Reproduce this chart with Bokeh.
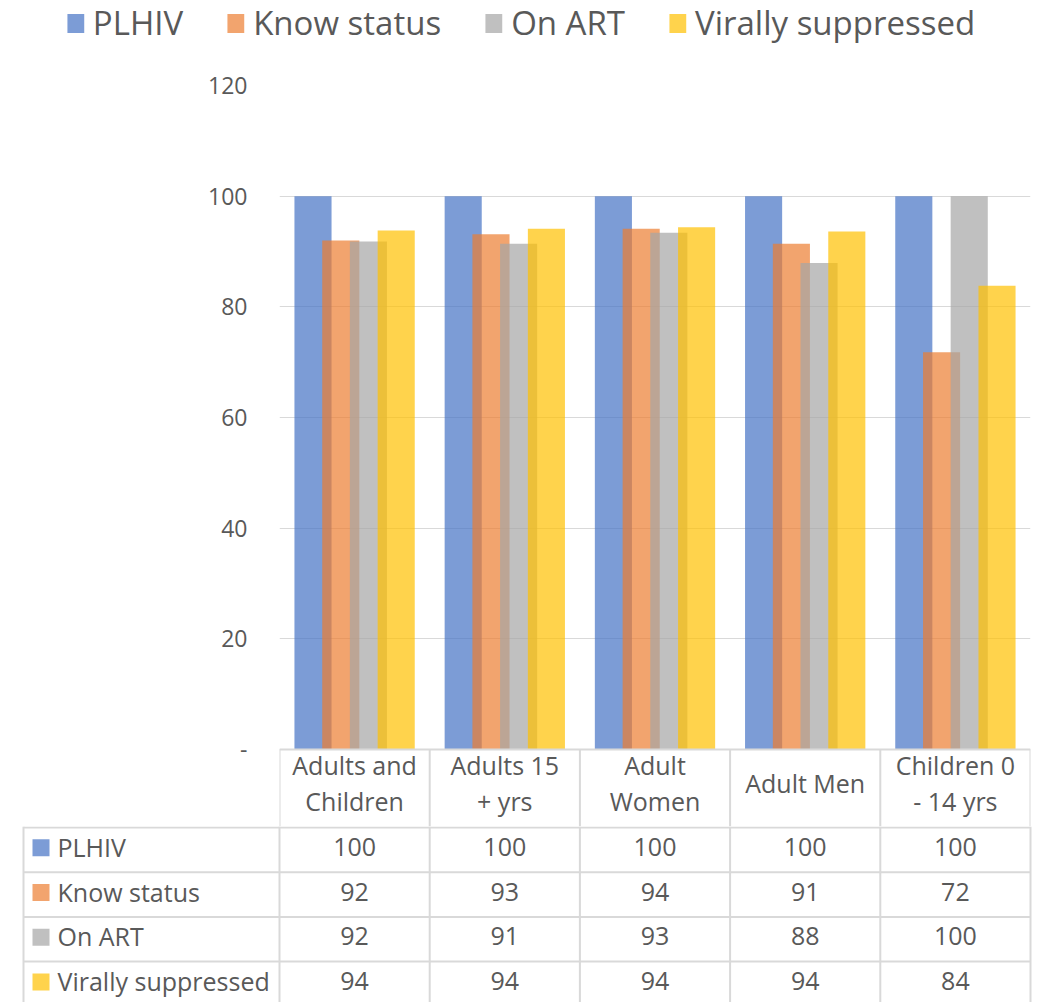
from bokeh.plotting import figure
from bokeh.models import (ColumnDataSource, Range1d, FixedTicker,
                          Legend, LegendItem)
from bokeh.layouts import column
from bokeh.transform import dodge
from bokeh.embed import file_html
from bokeh.resources import INLINE
from bokeh.core.properties import value

# ---------------- data ----------------
categories = ["Adults and Children", "Adults 15 + yrs", "Adult Women",
              "Adult Men", "Children 0 - 14 yrs"]
header_labels = ["Adults and\nChildren", "Adults 15\n+ yrs", "Adult\nWomen",
                 "Adult Men", "Children 0\n- 14 yrs"]
series_names = ["PLHIV", "Know status", "On ART", "Virally suppressed"]
plhiv = [100.0, 100.0, 100.0, 100.0, 100.0]
know_status = [92.0, 93.1, 94.1, 91.4, 71.8]
on_art = [91.8, 91.4, 93.4, 87.9, 100.0]
virally_suppressed = [93.8, 94.1, 94.4, 93.6, 83.8]
y_ticks = [0, 20, 40, 60, 80, 100, 120]

series_values = [plhiv, know_status, on_art, virally_suppressed]
colors = ["#4472C4", "#ED7D31", "#A5A5A5", "#FFC000"]
ALPHA = 0.7
FONT = "Open Sans"
TXT = "#595959"
GRID = "#D9D9D9"
TAB_FS = "25px"

W = 1040
LEG_H = 50
TOP_BORDER = 35
PLOT_H = 664          # pixels for the 0..120 value span
HEADER_H = 77         # header row of the data table (inside main frame)
MAIN_H = TOP_BORDER + PLOT_H + HEADER_H
TAB_H = 1002 - LEG_H - MAIN_H
FRAME_L = 279
FRAME_R = 1030
Y_MAX = 120

# ---------------- legend strip ----------------
leg = figure(width=W, height=LEG_H, x_range=Range1d(0, 1), y_range=Range1d(0, 1),
             toolbar_location=None, output_backend="svg",
             x_axis_type=None, y_axis_type=None, min_border=0,
             outline_line_color=None, frame_align=False)
leg.grid.visible = False
items = []
dummy = ColumnDataSource(dict(x=[-10], top=[-10]))
for name, c in zip(series_names, colors):
    r = leg.vbar(x="x", top="top", width=0.1, source=dummy,
                 fill_color=c, fill_alpha=ALPHA, line_color=None)
    items.append(LegendItem(label=name, renderers=[r]))
legend = Legend(items=items, orientation="horizontal", location="top_center",
                glyph_width=21, glyph_height=24, label_standoff=7, spacing=42,
                label_text_font=FONT, label_text_font_size="33px",
                label_text_color=TXT, border_line_color=None,
                background_fill_alpha=0, padding=0, margin=0)
leg.add_layout(legend, "center")

# ---------------- main chart (with the table header row below zero) ----------------
n = len(categories)
px_per_unit = PLOT_H / Y_MAX
y_bottom = -HEADER_H / px_per_unit
src = ColumnDataSource(dict(cat=categories, pos=[i + 0.5 for i in range(n)],
                            plhiv=plhiv, know=know_status,
                            art=on_art, vs=virally_suppressed))
p = figure(width=W, height=MAIN_H, x_range=Range1d(0, n),
           y_range=Range1d(y_bottom, Y_MAX), toolbar_location=None,
           output_backend="svg", x_axis_type=None,
           min_border_left=FRAME_L, min_border_right=W - FRAME_R,
           min_border_top=TOP_BORDER, min_border_bottom=0,
           outline_line_color=None, frame_align=False)
bar_w = 0.247
offsets = [-0.277, -0.092, 0.092, 0.277]
for col, off, c in zip(["plhiv", "know", "art", "vs"], offsets, colors):
    p.vbar(x=dodge("pos", off), top=col, width=bar_w,
           source=src, fill_color=c, fill_alpha=ALPHA, line_color=None)
p.xgrid.visible = False
p.ygrid.grid_line_color = GRID
p.ygrid.grid_line_width = 1
p.yaxis.ticker = FixedTicker(ticks=y_ticks)
p.yaxis.major_label_overrides = {0: "-"}
p.yaxis.axis_line_color = None
p.yaxis.major_tick_line_color = None
p.yaxis.minor_tick_line_color = None
p.yaxis.major_label_standoff = 26
p.yaxis.major_label_text_font = FONT
p.yaxis.major_label_text_font_size = "23px"
p.yaxis.major_label_text_color = TXT

# category axis line + header cell separators
p.segment(x0=[0], y0=[0], x1=[n], y1=[0], line_color=GRID, line_width=2)
p.segment(x0=list(range(n + 1)), y0=[0] * (n + 1), x1=list(range(n + 1)),
          y1=[y_bottom] * (n + 1), line_color=GRID, line_width=2)

# header text (category names), one glyph per line
line_gap = 18 / px_per_unit
hdr_mid = -(HEADER_H / 2 - 5.5) / px_per_unit
hx, hy, ht = [], [], []
for i, lab in enumerate(header_labels):
    parts = lab.split("\n")
    if len(parts) == 1:
        hx.append(i + 0.5); hy.append(hdr_mid); ht.append(parts[0])
    else:
        hx += [i + 0.5, i + 0.5]
        hy += [hdr_mid + line_gap, hdr_mid - line_gap]
        ht += parts
p.text(x=hx, y=hy, text=ht, text_align="center", text_baseline="middle",
       text_font=value(FONT), text_font_size=TAB_FS, text_color=TXT)

# ---------------- data table rows ----------------
y0 = LEG_H + MAIN_H            # page y of the table figure top
t = figure(width=W, height=TAB_H, x_range=Range1d(0, W),
           y_range=Range1d(y0 + TAB_H, y0), toolbar_location=None,
           output_backend="svg", x_axis_type=None, y_axis_type=None,
           min_border=0, outline_line_color=None, frame_align=False)
t.grid.visible = False

cw = (FRAME_R - FRAME_L) / n
tab_left = 23
row_h = 44.7
col_x = [FRAME_L + i * cw for i in range(n + 1)]
col_c = [FRAME_L + (i + 0.5) * cw for i in range(n)]
row_top = [y0 + 1 + i * row_h for i in range(len(series_names))]
row_c = [rt + row_h / 2 - 3 for rt in row_top]

hx0, hx1, hy2 = [], [], []
for rt in row_top:
    hx0.append(tab_left); hx1.append(FRAME_R); hy2.append(rt)
t.segment(x0=hx0, y0=hy2, x1=hx1, y1=hy2, line_color=GRID, line_width=2)
vx = col_x + [tab_left]
t.segment(x0=vx, y0=[y0] * len(vx), x1=vx, y1=[y0 + TAB_H] * len(vx),
          line_color=GRID, line_width=2)

t.rect(x=[tab_left + 17.5] * len(series_names), y=[rc + 1 for rc in row_c],
       width=17, height=17, width_units="screen", height_units="screen",
       fill_color=colors, fill_alpha=ALPHA, line_color=None)
t.text(x=[tab_left + 34] * len(series_names), y=row_c, text=series_names,
       text_align="left", text_baseline="middle", text_font=value(FONT),
       text_font_size=TAB_FS, text_color=TXT)
vx_l, vy_l, vt_l = [], [], []
for ri, vals in enumerate(series_values):
    for ci, v in enumerate(vals):
        vx_l.append(col_c[ci]); vy_l.append(row_c[ri]); vt_l.append(f"{v:.0f}")
t.text(x=vx_l, y=vy_l, text=vt_l, text_align="center", text_baseline="middle",
       text_font=value(FONT), text_font_size=TAB_FS, text_color=TXT)

layout = column(leg, p, t, spacing=0)
open("out.html", "w").write(file_html(layout, INLINE))
